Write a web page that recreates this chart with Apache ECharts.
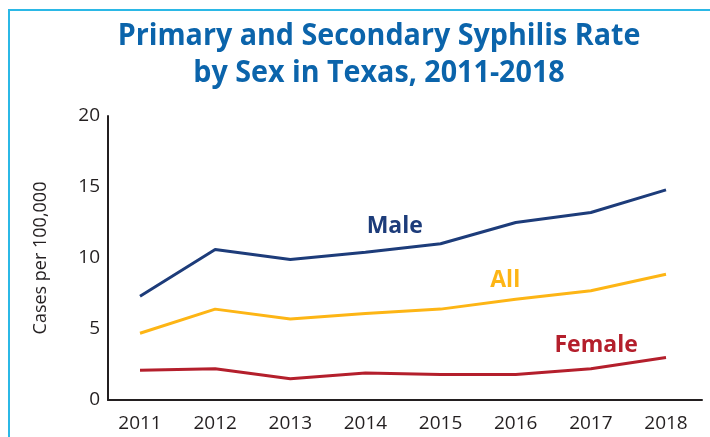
<!DOCTYPE html>
<html>
<head>
<meta charset="utf-8">
<script src="https://cdn.jsdelivr.net/npm/echarts@6/dist/echarts.min.js"></script>
<style>
  html, body { margin: 0; padding: 0; background: #fff; }
  #chart { width: 710px; height: 437px; }
</style>
</head>
<body>
<div id="chart"></div>
<script>
// 年份与各组发病率 (per 100,000)
const years = [2011, 2012, 2013, 2014, 2015, 2016, 2017, 2018];
const male = [7.3, 10.6, 9.9, 10.4, 11.0, 12.5, 13.2, 14.8];
const all = [4.7, 6.4, 5.7, 6.1, 6.4, 7.1, 7.7, 8.85];
const female = [2.1, 2.2, 1.5, 1.9, 1.8, 1.8, 2.2, 3.0];
const yTicks = [0, 5, 10, 15, 20];

// 线上标注文字的位置 (数据坐标)
const maleLabelAt = [2014.39, 12.2];
const allLabelAt = [2015.86, 8.4];
const femaleLabelAt = [2017.07, 3.85];

const pair = arr => years.map((y, i) => [y, arr[i]]);

function lineSeries(name, arr, color, at) {
  return {
    name: name,
    type: 'line',
    data: pair(arr),
    symbol: 'none',
    lineStyle: { color: color, width: 3 },
    markPoint: {
      symbol: 'circle',
      symbolSize: 0,
      silent: true,
      data: [{ coord: at, value: name }],
      label: {
        show: true,
        position: 'inside',
        formatter: name,
        color: color,
        fontFamily: 'Open Sans',
        fontWeight: 'bold',
        fontSize: 23
      }
    }
  };
}

const titleFont = {
  fill: '#0b64ab',
  fontFamily: 'Open Sans',
  fontWeight: 'bold',
  fontSize: 30.5,
  textAlign: 'center',
  textVerticalAlign: 'middle'
};

const option = {
  animation: false,
  graphic: [
    {
      type: 'rect',
      shape: { x: 9, y: 10, width: 720, height: 450 },
      style: { fill: 'none', stroke: '#2bb8e6', lineWidth: 2 },
      silent: true
    },
    {
      type: 'text', x: 379, y: 36, scaleX: 0.94, silent: true,
      style: Object.assign({ text: 'Primary and Secondary Syphilis Rate' }, titleFont)
    },
    {
      type: 'text', x: 379, y: 73, scaleX: 0.94, silent: true,
      style: Object.assign({ text: 'by Sex in Texas, 2011-2018' }, titleFont)
    }
  ],
  grid: { left: 108, right: 8, top: 116, bottom: 37 },
  xAxis: {
    type: 'value',
    min: 2010.574,
    max: 2018.479,
    splitLine: { show: false },
    axisTick: { show: false },
    axisLine: { show: true, lineStyle: { color: '#231f20', width: 2 } },
    axisLabel: {
      customValues: years,
      formatter: v => String(v),
      color: '#231f20',
      fontFamily: 'Open Sans',
      fontSize: 19,
      margin: 14
    }
  },
  yAxis: {
    type: 'value',
    min: 0,
    max: 20,
    interval: 5,
    name: 'Cases per 100,000',
    nameLocation: 'middle',
    nameGap: 58,
    nameTextStyle: { color: '#231f20', fontFamily: 'Open Sans', fontSize: 18 },
    splitLine: { show: false },
    axisTick: { show: false },
    axisLine: { show: true, lineStyle: { color: '#231f20', width: 2 } },
    axisLabel: {
      customValues: yTicks,
      color: '#231f20',
      fontFamily: 'Open Sans',
      fontSize: 19,
      margin: 8
    }
  },
  series: [
    lineSeries('Male', male, '#1d3c7a', maleLabelAt),
    lineSeries('All', all, '#fdb515', allLabelAt),
    lineSeries('Female', female, '#b41f2c', femaleLabelAt)
  ]
};

const myChart = echarts.init(document.getElementById('chart'));
myChart.setOption(option);
</script>
</body>
</html>
